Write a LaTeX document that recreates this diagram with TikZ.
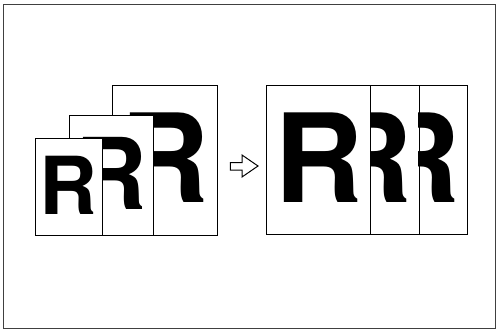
\documentclass[tikz,border=0pt]{standalone}
\usepackage{fontspec}
\newfontfamily\rfont{TeX Gyre Heros}
\tikzset{
  page/.style={draw=black, fill=white, line width=1pt, inner sep=0pt, anchor=north west},
  bigR/.style={inner sep=0pt, anchor=base east, font=\rfont\bfseries\fontsize{123}{123}\selectfont},
  midR/.style={inner sep=0pt, anchor=base east, font=\rfont\bfseries\fontsize{99}{99}\selectfont},
  smallR/.style={inner sep=0pt, anchor=base east, font=\rfont\bfseries\fontsize{80}{80}\selectfont},
  frame/.style={draw=black!75, line width=1pt},
  hollow/.style={draw=black, fill=white, line width=1pt, line join=miter}
}
\begin{document}
\begin{tikzpicture}[x=1pt,y=-1pt]
\useasboundingbox (0,0) rectangle (496,329);
\fill[white] (0,0) rectangle (496,329);
\node[frame, inner sep=0pt, anchor=north west, minimum width=492pt, minimum height=324pt] (fr) at (3,4) {};
% left stack
\node[page, minimum width=105pt, minimum height=150pt] (C) at (112.3,85.3) {};
\begin{scope}
  \clip (C.south west) rectangle (C.north east);
  \node[bigR] (RC) at (209.5,202) {R};
\end{scope}
\node[page, minimum width=84pt, minimum height=119.7pt] (B) at (68.7,115.3) {};
\begin{scope}
  \clip (B.south west) rectangle (B.north east);
  \node[midR] (RB) at (147.4,209) {R};
\end{scope}
\node[page, minimum width=67pt, minimum height=96.7pt] (A) at (35.3,138.3) {};
\node[smallR] (RA) at (97.6,214) {R};
% arrow
\draw[hollow] (230.3,162.5) -- (242,162.5) -- (242,155) -- (258,166) -- (242,177) -- (242,170) -- (230.3,170) -- cycle;
% right group
\node[page, minimum width=104.6pt, minimum height=149.6pt] (D) at (265.7,84.7) {};
\node[bigR] (RD) at (363.8,202.3) {R};
\node[page, minimum width=48.4pt, minimum height=149.6pt] (E) at (370.3,84.7) {};
\begin{scope}
  \clip (E.south west) rectangle (E.north east);
  \node[bigR] (RE) at (412.5,202.3) {R};
\end{scope}
\node[page, minimum width=48.6pt, minimum height=149.6pt] (F) at (418.7,84.7) {};
\begin{scope}
  \clip (F.south west) rectangle (F.north east);
  \node[bigR] (RF) at (460.5,202.3) {R};
\end{scope}
\end{tikzpicture}
\end{document}
